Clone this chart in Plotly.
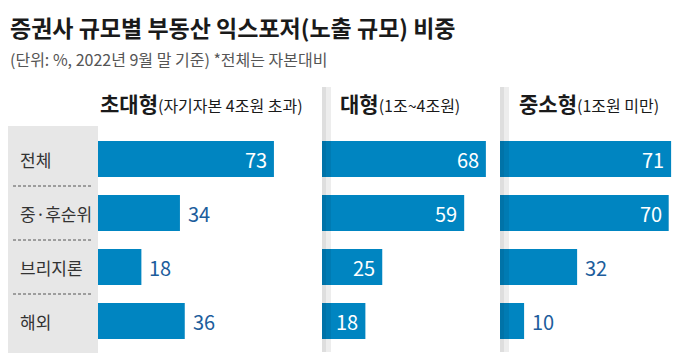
import plotly.graph_objects as go

categories = ["전체", "중·후순위", "브리지론", "해외"]
panel_titles = ["초대형", "대형", "중소형"]
panel_subtitles = ["(자기자본 4조원 초과)", "(1조~4조원)", "(1조원 미만)"]
values_super = [73, 34, 18, 36]
values_large = [68, 59, 25, 18]
values_small = [71, 70, 32, 10]
label_inside = [
    [True, False, False, False],
    [True, True, True, True],
    [True, True, False, False],
]

title = "증권사 규모별 부동산 익스포저(노출 규모) 비중"
subtitle = "(단위: %, 2022년 9월 말 기준) *전체는 자본대비"

W, H = 680, 360
FONT = "Noto Sans CJK KR"
BAR = "#0085c1"
OUT_TXT = "#1c5d9c"

def px(x):
    return x / W

def py(y):
    return 1 - y / H

panels = [values_super, values_large, values_small]
starts = [98, 322, 500]
xmax = 74
unit = 2.41
span = xmax * unit

fig = go.Figure()
xnames = ["x", "x2", "x3"]
for i, vals in enumerate(panels):
    fig.add_trace(go.Bar(
        x=vals, y=categories, orientation="h",
        marker=dict(color=BAR, line=dict(width=0)),
        xaxis=xnames[i], yaxis="y", hoverinfo="skip",
    ))

layout = dict(
    width=W, height=H, margin=dict(l=0, r=0, t=0, b=0),
    paper_bgcolor="white", plot_bgcolor="rgba(0,0,0,0)",
    showlegend=False, bargap=1/3,
    font=dict(family=FONT, color="#222"),
    yaxis=dict(domain=[py(348), py(132)], type="category",
               categoryorder="array", categoryarray=categories,
               range=[3.5, -0.5], autorange=False,
               showticklabels=False, showgrid=False, zeroline=False,
               showline=False, ticks="", anchor="x"),
)
for i in range(3):
    key = "xaxis" if i == 0 else f"xaxis{i+1}"
    layout[key] = dict(domain=[px(starts[i]), min(1, px(starts[i] + span))],
                       range=[0, xmax], autorange=False, anchor="y",
                       showticklabels=False, showgrid=False,
                       zeroline=False, showline=False, ticks="")
fig.update_layout(**layout)

shapes = []
shapes.append(dict(type="rect", xref="paper", yref="paper",
                   x0=px(8), x1=px(98), y0=py(353), y1=py(126),
                   fillcolor="#e7e7e7", line=dict(width=0), layer="below"))
for yy in [186, 240, 294]:
    shapes.append(dict(type="line", xref="paper", yref="paper",
                       x0=px(13), x1=px(93), y0=py(yy), y1=py(yy),
                       line=dict(color="#555", width=1, dash="3px,2px")))
for s in [322, 500]:
    shapes.append(dict(type="rect", xref="paper", yref="paper",
                       x0=px(s), x1=px(s + 4), y0=py(352), y1=py(87),
                       fillcolor="rgba(0,0,0,0.13)", line=dict(width=0), layer="above"))
    shapes.append(dict(type="rect", xref="paper", yref="paper",
                       x0=px(s + 4), x1=px(s + 9), y0=py(352), y1=py(87),
                       fillcolor="rgba(0,0,0,0.07)", line=dict(width=0), layer="above"))
fig.update_layout(shapes=shapes)

ann = []
ann.append(dict(text=f"<b>{title}</b>", xref="paper", yref="paper",
                x=px(8), y=py(27), xanchor="left", yanchor="middle",
                showarrow=False, font=dict(size=23, color="#1a1a1a")))
ann.append(dict(text=subtitle, xref="paper", yref="paper",
                x=px(8), y=py(59), xanchor="left", yanchor="middle",
                showarrow=False, font=dict(size=16, color="#555")))
head_x = [98, 338, 517]
for i in range(3):
    ann.append(dict(text=f"<b>{panel_titles[i]}</b><span style='font-size:16px'>{panel_subtitles[i]}</span>",
                    xref="paper", yref="paper", x=px(head_x[i]), y=py(103),
                    xanchor="left", yanchor="middle", showarrow=False,
                    font=dict(size=21, color="#1a1a1a")))
for c in categories:
    ann.append(dict(text=c, xref="paper", yref="y", x=px(18), y=c,
                    xanchor="left", yanchor="middle", showarrow=False,
                    font=dict(size=17, color="#333")))
for i, vals in enumerate(panels):
    for j, v in enumerate(vals):
        inside = label_inside[i][j]
        ann.append(dict(text=str(v), xref=xnames[i], yref="y", x=v, y=categories[j],
                        xanchor="right" if inside else "left", yanchor="middle",
                        xshift=-5 if inside else 6, showarrow=False,
                        font=dict(size=20, color="white" if inside else OUT_TXT)))
fig.update_layout(annotations=ann)

fig.write_html("out.html", config={"displayModeBar": False},
               post_script="document.body.style.margin='0';")
